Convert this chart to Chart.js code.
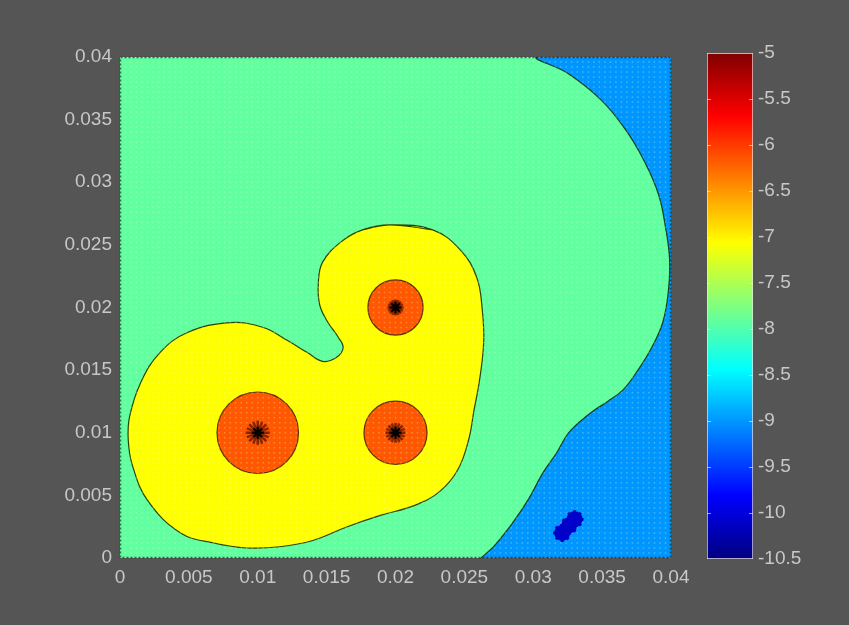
<!DOCTYPE html>
<html>
<head>
<meta charset="utf-8">
<script src="https://cdn.jsdelivr.net/npm/chart.js@4.4.0/dist/chart.umd.min.js"></script>
<style>
  html, body { margin: 0; padding: 0; background: #555555; width: 849px; height: 625px; overflow: hidden; }
  canvas { position: absolute; left: 0; top: 0; }
</style>
</head>
<body>
<canvas id="field" width="849" height="625"></canvas>
<canvas id="cbar" width="849" height="625"></canvas>
<script>
// Axis ticks (same grid on x and y)
const AXIS_TICKS  = [0, 0.005, 0.01, 0.015, 0.02, 0.025, 0.03, 0.035, 0.04];
const AXIS_LABELS = ['0', '0.005', '0.01', '0.015', '0.02', '0.025', '0.03', '0.035', '0.04'];

// Colour bar ticks (field level)
const LEVEL_TICKS  = [-10.5, -10, -9.5, -9, -8.5, -8, -7.5, -7, -6.5, -6, -5.5, -5];
const LEVEL_LABELS = ['-10.5', '-10', '-9.5', '-9', '-8.5', '-8', '-7.5', '-7', '-6.5', '-6', '-5.5', '-5'];

// Domain of the field
const DOMAIN = [[0, 0], [0, 0.04], [0.04, 0.04], [0.04, 0]];

// Contour between the -8 band and the -9 band (runs from the top edge to the bottom edge)
const LOW_EDGE = [
  [0.0303, 0.0400], [0.0325, 0.0387], [0.0349, 0.0366], [0.0367, 0.0342], [0.0381, 0.0316],
  [0.0391, 0.0290], [0.0396, 0.0264], [0.0399, 0.0238], [0.0398, 0.0212], [0.0394, 0.0188],
  [0.0386, 0.0168], [0.0376, 0.0150], [0.0365, 0.0134], [0.0354, 0.0125], [0.0343, 0.0117],
  [0.0334, 0.0109], [0.0325, 0.0099], [0.0317, 0.0084], [0.0307, 0.0068], [0.0296, 0.0046],
  [0.0283, 0.0025], [0.0272, 0.0010], [0.0260, -0.0006]
];

// Closed contour of the -7 level around the three sources
const HIGH_EDGE = [
  [0.0196, 0.0266], [0.0227, 0.0262], [0.0247, 0.0246], [0.0259, 0.0224], [0.0263, 0.0198],
  [0.0264, 0.0172], [0.0261, 0.0142], [0.0257, 0.0118], [0.0253, 0.0094], [0.0245, 0.0070],
  [0.0232, 0.0053], [0.0214, 0.0042], [0.0189, 0.0034], [0.0165, 0.0025], [0.0140, 0.0014],
  [0.0116, 0.0009], [0.0092, 0.0008], [0.0068, 0.0012], [0.0044, 0.0020], [0.0020, 0.0046],
  [0.0009, 0.0074], [0.0006, 0.0094], [0.0007, 0.0113], [0.0015, 0.0140], [0.0029, 0.0164],
  [0.0049, 0.0180], [0.0080, 0.0188], [0.0104, 0.0184], [0.0121, 0.0174], [0.0136, 0.0164],
  [0.0147, 0.0157], [0.0157, 0.0160], [0.0162, 0.0168], [0.0158, 0.0177], [0.0151, 0.0188],
  [0.0145, 0.0202], [0.0144, 0.0220], [0.0147, 0.0236], [0.0160, 0.0252], [0.0176, 0.0262]
];

// Sources and the radius of their -6 contour
const SRC_X = [0.01, 0.02, 0.02];
const SRC_Y = [0.01, 0.02, 0.01];
const SRC_R = [0.0031, 0.0021, 0.0024];

// Sink markers
const SINK_X = [0.0321, 0.0326, 0.0330];
const SINK_Y = [0.0020, 0.0026, 0.0031];

// Band colours (jet colour map)
const C_BAND8  = 'rgb(98,255,160)';
const C_BAND9  = 'rgb(0,150,255)';
const C_BAND7  = 'rgb(255,255,0)';
const C_BAND6  = 'rgb(255,88,0)';
const C_SINK   = 'rgb(0,0,200)';
const C_LINE   = 'rgba(15,35,0,0.85)';
const NONE     = 'rgba(0,0,0,0)';
const TXT      = '#c8c8c8';
const FONT     = { family: '"Liberation Sans", Arial, sans-serif', size: 19 };

const pts = arr => arr.map(([x, y]) => ({ x, y }));
const srcPts = SRC_X.map((x, i) => ({ x, y: SRC_Y[i] }));
const sinkPts = SINK_X.map((x, i) => ({ x, y: SINK_Y[i] }));

// low band polygon closes along the right edge
const lowPoly = [{ x: 0.04, y: 0.04 }, ...pts(LOW_EDGE), { x: 0.04, y: -0.0006 }];
// closed loop: repeat the start so the spline joins smoothly
const hi = pts(HIGH_EDGE);
const highPoly = [hi[hi.length - 1], ...hi, hi[0], hi[1]];

function radiusPx(ctx) {
  if (ctx.dataIndex === undefined) return 0;
  const s = ctx.chart.scales;
  const r = SRC_R[ctx.dataIndex];
  const rx = s.x.getPixelForValue(r) - s.x.getPixelForValue(0);
  const ry = s.y.getPixelForValue(0) - s.y.getPixelForValue(r);
  return (rx + ry) / 2;
}

// faint mesh dots and dotted frame of the plotted domain
const MESH_STEP = 0.0004;
const meshAndFrame = {
  id: 'meshAndFrame',
  afterDatasetDraw(chart, args) {
    if (args.index !== 4) return;
    const { ctx, chartArea: a, scales: { x, y } } = chart;
    ctx.save();
    ctx.beginPath(); ctx.rect(a.left, a.top, a.right - a.left, a.bottom - a.top); ctx.clip();
    ctx.fillStyle = 'rgba(235,255,210,0.30)';
    for (let gx = 0; gx <= 0.04 + 1e-9; gx += MESH_STEP) {
      const px = x.getPixelForValue(gx);
      for (let gy = 0; gy <= 0.04 + 1e-9; gy += MESH_STEP) {
        const py = y.getPixelForValue(gy);
        ctx.fillRect(px - 0.75, py - 0.75, 1.5, 1.5);
      }
    }
    ctx.restore();
  },
  afterDatasetsDraw(chart) {
    const { ctx, chartArea: a } = chart;
    ctx.save();
    ctx.strokeStyle = 'rgba(0,20,0,0.6)';
    ctx.lineWidth = 1.5;
    ctx.setLineDash([2, 2]);
    ctx.strokeRect(a.left + 0.5, a.top + 0.5, a.right - a.left - 1, a.bottom - a.top - 1);
    ctx.restore();
  }
};

const axisCommon = (labels, extra) => Object.assign({
  type: 'linear', min: 0, max: 0.04,
  afterBuildTicks: s => { s.ticks = AXIS_TICKS.map(v => ({ value: v })); },
  ticks: { color: TXT, font: FONT, padding: 8, autoSkip: false, maxRotation: 0, callback: (v, i) => labels[i] },
  grid: { display: false, drawTicks: false },
  border: { display: false }
}, extra);

new Chart(document.getElementById('field'), {
  type: 'scatter',
  data: {
    datasets: [
      { // 0: -8 band over the whole domain
        data: pts(DOMAIN), showLine: true, fill: 'shape', tension: 0, clip: 0,
        backgroundColor: C_BAND8, borderWidth: 0, pointRadius: 0, order: 20
      },
      { // 1: -9 band fill
        data: lowPoly, showLine: true, fill: 'shape', tension: 0.4, clip: 0,
        backgroundColor: C_BAND9, borderColor: NONE, borderWidth: 0, pointRadius: 0, order: 19
      },
      { // 2: -8.5 contour line (edges of the domain left undrawn)
        data: lowPoly, showLine: true, fill: false, tension: 0.4, clip: 0,
        borderColor: C_LINE, borderWidth: 1.2, pointRadius: 0, order: 18,
        segment: { borderColor: c => (c.p0DataIndex === 0 || c.p1DataIndex === lowPoly.length - 1) ? NONE : C_LINE }
      },
      { // 3: -7 band
        data: highPoly, showLine: true, fill: 'shape', tension: 0.4, clip: 0,
        backgroundColor: C_BAND7, borderColor: C_LINE, borderWidth: 1.2, pointRadius: 0, order: 17
      },
      { // 4: -6 contour around each source
        data: srcPts, pointStyle: 'circle', pointRadius: radiusPx,
        backgroundColor: C_BAND6, borderColor: 'rgba(70,25,0,0.85)', borderWidth: 1.2, order: 16
      },
      { // 5: tight contours near each source
        data: srcPts, pointStyle: 'star', pointRadius: [12, 8, 10], rotation: 0,
        borderColor: 'rgba(90,15,0,0.75)', borderWidth: 2.5, order: 15
      },
      { // 6
        data: srcPts, pointStyle: 'star', pointRadius: [12, 8, 10], rotation: 22.5,
        borderColor: 'rgba(90,15,0,0.7)', borderWidth: 2.5, order: 14
      },
      { // 7: source markers
        data: srcPts, pointStyle: 'star', pointRadius: 6,
        borderColor: '#000000', borderWidth: 2, order: 13
      },
      { // 8
        data: srcPts, pointStyle: 'circle', pointRadius: 2.5,
        backgroundColor: '#000000', borderWidth: 0, order: 12
      },
      { // 9: sink
        data: sinkPts, pointStyle: 'circle', pointRadius: 8,
        backgroundColor: C_SINK, borderWidth: 0, order: 11
      },
      { // 10
        data: sinkPts, pointStyle: 'star', pointRadius: 9,
        borderColor: C_SINK, borderWidth: 3, order: 10
      }
    ]
  },
  options: {
    responsive: false, animation: false, events: [],
    layout: { padding: { left: 0, top: 57, right: 178, bottom: 0 } },
    plugins: { legend: { display: false }, tooltip: { enabled: false } },
    scales: {
      x: axisCommon(AXIS_LABELS, { afterFit: s => { s.height = 67; } }),
      y: axisCommon(AXIS_LABELS, { afterFit: s => { s.width = 120; } })
    }
  },
  plugins: [meshAndFrame]
});

// jet colour map as a vertical gradient over the bar
const JET_STOPS = [
  [0, 'rgb(0,0,128)'], [0.125, 'rgb(0,0,255)'], [0.375, 'rgb(0,255,255)'],
  [0.625, 'rgb(255,255,0)'], [0.875, 'rgb(255,0,0)'], [1, 'rgb(128,0,0)']
];
function jetGradient(ctx) {
  const area = ctx.chart.chartArea;
  if (!area) return NONE;
  const g = ctx.chart.ctx.createLinearGradient(0, area.bottom, 0, area.top);
  JET_STOPS.forEach(([t, c]) => g.addColorStop(t, c));
  return g;
}

const barTicks = {
  id: 'barTicks',
  afterDatasetsDraw(chart) {
    const { ctx, chartArea: a, scales: { y } } = chart;
    ctx.save();
    ctx.strokeStyle = 'rgba(235,235,235,0.65)';
    ctx.lineWidth = 1;
    LEVEL_TICKS.slice(1, -1).forEach(v => {
      const py = Math.round(y.getPixelForValue(v)) + 0.5;
      ctx.beginPath();
      ctx.moveTo(a.left, py); ctx.lineTo(a.left + 4, py);
      ctx.moveTo(a.right - 4, py); ctx.lineTo(a.right, py);
      ctx.stroke();
    });
    ctx.restore();
  }
};

new Chart(document.getElementById('cbar'), {
  type: 'bar',
  data: {
    labels: ['level'],
    datasets: [{
      data: [[LEVEL_TICKS[0], LEVEL_TICKS[LEVEL_TICKS.length - 1]]],
      backgroundColor: jetGradient,
      borderColor: 'rgba(255,245,245,0.9)', borderWidth: 1, borderSkipped: false,
      barPercentage: 1, categoryPercentage: 1
    }]
  },
  options: {
    responsive: false, animation: false, events: [],
    layout: { padding: { left: 707, top: 53, right: 0, bottom: 66 } },
    plugins: { legend: { display: false }, tooltip: { enabled: false } },
    scales: {
      x: { display: false },
      y: {
        position: 'right', min: LEVEL_TICKS[0], max: LEVEL_TICKS[LEVEL_TICKS.length - 1],
        afterFit: s => { s.width = 96; },
        afterBuildTicks: s => { s.ticks = LEVEL_TICKS.map(v => ({ value: v })); },
        ticks: { color: TXT, font: FONT, padding: 5, autoSkip: false, callback: (v, i) => LEVEL_LABELS[i] },
        grid: { display: false, drawTicks: false },
        border: { display: false }
      }
    }
  },
  plugins: [barTicks]
});
</script>
</body>
</html>
